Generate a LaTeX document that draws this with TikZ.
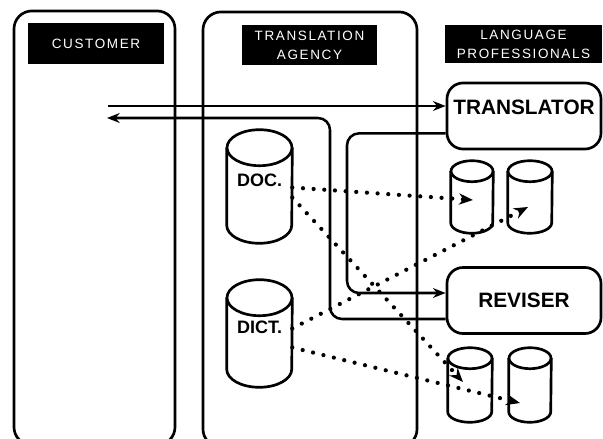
\documentclass[tikz,border=0pt]{standalone}
\usepackage{fontspec}
\setsansfont{Liberation Sans}
\newfontfamily\headfont[LetterSpace=12]{Liberation Sans}
\usetikzlibrary{arrows.meta,positioning,shapes.geometric,calc}

\begin{document}
\begin{tikzpicture}[x=0.025cm, y=-0.025cm,
  lane/.style={draw, line width=1.9pt, rounded corners=0.45cm},
  head/.style={fill=black, text=white, inner sep=0pt, align=center,
               font=\headfont\fontsize{9.6}{13.5}\selectfont},
  role/.style={draw, line width=1.9pt, rounded corners=0.4cm,
               minimum width=3.85cm, minimum height=1.65cm,
               font=\sffamily\bfseries\fontsize{14.8}{16}\selectfont},
  store/.style={inner sep=0pt, text depth=0.3cm,
                font=\sffamily\bfseries\fontsize{12.8}{14}\selectfont},
  wall/.style={line width=1.9pt},
  flow/.style={-{Stealth[length=9pt, width=7pt]}, line width=1.8pt,
               rounded corners=0.3cm},
  copy/.style={-{Stealth[length=10pt, width=8pt]}, line width=3pt,
               line cap=round, dash pattern=on 0pt off 7.6pt}
]
  \useasboundingbox (0,0) rectangle (603,439);
  \clip (0,0) rectangle (603,439);

  % Swimlanes
  \node[lane, minimum width=4.025cm, minimum height=10.85cm] (custlane) at (94.5,228) {};
  \node[lane, minimum width=5.35cm, minimum height=10.875cm] (agencylane) at (310,229.5) {};

  % Lane headings
  \node[head, minimum width=3.4cm, minimum height=1.025cm] (custhead) at (96,43.5) {CUSTOMER};
  \node[head, minimum width=3.375cm, minimum height=1cm] (agencyhead) at (309.5,45)
    {TRANSLATION\\AGENCY};
  \node[head, minimum width=3.925cm, minimum height=0.95cm] (profhead) at (523.5,44)
    {LANGUAGE\\PROFESSIONALS};

  % Roles
  \node[role, text depth=0.45cm] (translator) at (524,116) {TRANSLATOR};
  \node[role] (reviser) at (524,300.5) {REVISER};

  % Stores
  \node[store, minimum width=1.625cm, minimum height=2.825cm] (doc) at (259.5,186.5) {DOC.};
  \node[store, minimum width=1.625cm, minimum height=2.675cm] (dict) at (259.5,333.5) {DICT.};
  \node[store, minimum width=1.05cm, minimum height=1.8cm] (tdoc) at (472,197) {};
  \node[store, minimum width=1.1cm, minimum height=1.8cm] (tdict) at (530,197) {};
  \node[store, minimum width=1.1cm, minimum height=1.85cm] (rdoc) at (470,385) {};
  \node[store, minimum width=1.05cm, minimum height=1.85cm] (rdict) at (530,385) {};

  \foreach \s/\rx/\ry in {doc/0.8125/18, dict/0.8125/18, tdoc/0.525/10.5,
                          tdict/0.55/10.5, rdoc/0.55/10.5, rdict/0.525/10.5} {
    \draw[wall] ($(\s.north west)+(0,\ry)$) -- ($(\s.south west)+(0,-\ry)$)
      arc[start angle=180, end angle=360, x radius=\rx cm, y radius=\ry*0.025cm]
      -- ($(\s.north east)+(0,\ry)$);
    \draw[wall] ($(\s.north)+(0,\ry)$) ellipse[x radius=\rx cm, y radius=\ry*0.025cm];
  }

  % Order and delivery
  \coordinate (custsend) at (108,106);
  \coordinate (custget) at (107,118);
  \coordinate (tr2rev) at (347,293);
  \coordinate (rev2cust) at (330,118);

  \draw[flow] (custsend) -- (custsend -| translator.west);
  \draw[flow] ($(translator.south west)+(0,-17)$) -| (tr2rev) -- (tr2rev -| reviser.west);
  \draw[flow] ($(reviser.west)+(0,18.5)$) -| (rev2cust) -- (custget);

  % Copies of documents and dictionaries
  \draw[copy] ($(doc.east)+(0,1)$) -- ($(tdoc.center)+(1,3)$);
  \draw[copy] ($(doc.east)+(0,11)$) -- ($(rdoc.center)+(-7,-3)$);
  \draw[copy] ($(dict.east)+(0,-5)$) -- ($(tdict.center)+(-2,10)$);
  \draw[copy] ($(dict.east)+(0,14)$) -- ($(rdict.center)+(-10,18)$);
\end{tikzpicture}
\end{document}
